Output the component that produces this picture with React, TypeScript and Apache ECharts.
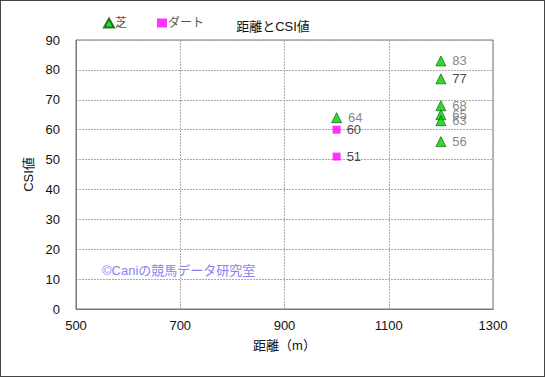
import React, { useEffect, useRef } from "react";
import * as echarts from "echarts";

const turfDistance = [1000, 1200, 1200, 1200, 1200, 1200, 1200];
const turfCSI = [64, 83, 77, 68, 65, 63, 56];
const dirtDistance = [1000, 1000];
const dirtCSI = [60, 51];
const xTicks = [500, 700, 900, 1100, 1300];

const turfLabelColors = ["#666", "#666", "#111", "#666", "#666", "#666", "#666"];
const dirtLabelColors = ["#111", "#111"];

const FONT = "'Liberation Sans', Arial, 'Noto Sans CJK JP', sans-serif";

export default function App() {
  const ref = useRef<HTMLDivElement>(null);
  useEffect(() => {
    document.body.style.margin = "0";
    const chart = echarts.init(ref.current!, null, { renderer: "svg" });
    const turfData = turfDistance.map((d, i) => ({
      value: [d, turfCSI[i]],
      label: { color: turfLabelColors[i] },
    }));
    const dirtData = dirtDistance.map((d, i) => ({
      value: [d, dirtCSI[i]],
      label: { color: dirtLabelColors[i] },
    }));
    chart.setOption({
      animation: false,
      textStyle: { fontFamily: FONT },
      title: {
        text: "距離とCSI値",
        left: 268,
        top: 15,
        textAlign: "center",
        textStyle: { fontSize: 13, fontWeight: "normal", color: "#111", fontFamily: FONT },
      },
      legend: {
        left: 98,
        top: 12,
        itemGap: 30,
        itemWidth: 10,
        itemHeight: 9,
        textStyle: { fontSize: 12, color: "#555", fontFamily: FONT, padding: [0, 0, 0, -4] },
        data: [
          { name: "芝", icon: "triangle" },
          { name: "ダート", icon: "rect" },
        ],
      },
      grid: { left: 76, right: 52, top: 40, bottom: 68 },
      xAxis: {
        type: "value",
        min: xTicks[0],
        max: xTicks[xTicks.length - 1],
        interval: 200,
        name: "距離（m）",
        nameLocation: "middle",
        nameGap: 30,
        nameTextStyle: { fontSize: 13, color: "#111", fontFamily: FONT },
        axisLine: { show: true, lineStyle: { color: "#777", width: 1 } },
        axisTick: { show: false },
        axisLabel: { fontSize: 13, color: "#111", margin: 10, formatter: (v: number) => String(v) },
        splitLine: { show: true, lineStyle: { color: "#aaa", type: [2, 1], width: 1 } },
      },
      yAxis: {
        type: "value",
        min: 0,
        max: 90,
        interval: 10,
        name: "CSI値",
        nameLocation: "middle",
        nameGap: 38,
        nameRotate: 90,
        nameTextStyle: { fontSize: 13, color: "#111", fontFamily: FONT },
        axisLine: { show: true, lineStyle: { color: "#777", width: 1 } },
        axisTick: { show: false },
        axisLabel: { fontSize: 13, color: "#111", margin: 16 },
        splitLine: { show: true, lineStyle: { color: "#aaa", type: [2, 1], width: 1 } },
      },
      graphic: [
        {
          type: "rect",
          shape: { x: 76, y: 40, width: 417, height: 269 },
          style: { fill: "none", stroke: "#777", lineWidth: 1 },
          silent: true,
        },
        {
          type: "text",
          left: 102,
          top: 264,
          style: {
            text: "©Caniの競馬データ研究室",
            fill: "#8484f4",
            fontSize: 13,
            fontFamily: FONT,
          },
        },
      ],
      series: [
        {
          name: "芝",
          type: "scatter",
          symbol: "triangle",
          symbolSize: 10,
          itemStyle: { color: "#00cc00", borderColor: "#005a00", borderWidth: 0.8 },
          label: {
            show: true,
            position: "right",
            distance: 6,
            fontSize: 13,
            formatter: (p: any) => String(p.value[1]),
          },
          data: turfData,
        },
        {
          name: "ダート",
          type: "scatter",
          symbol: "rect",
          symbolSize: 8,
          itemStyle: { color: "#ff00ff" },
          label: {
            show: true,
            position: "right",
            distance: 6,
            fontSize: 13,
            formatter: (p: any) => String(p.value[1]),
          },
          data: dirtData,
        },
      ],
    });
    return () => chart.dispose();
  }, []);
  return (
    <div
      style={{
        position: "absolute",
        left: 0,
        top: 0,
        width: 545,
        height: 377,
        boxSizing: "border-box",
        border: "1px solid #444",
        background: "#fff",
      }}
    >
      <div ref={ref} style={{ position: "absolute", left: -1, top: -1, width: 545, height: 377 }} />
    </div>
  );
}
